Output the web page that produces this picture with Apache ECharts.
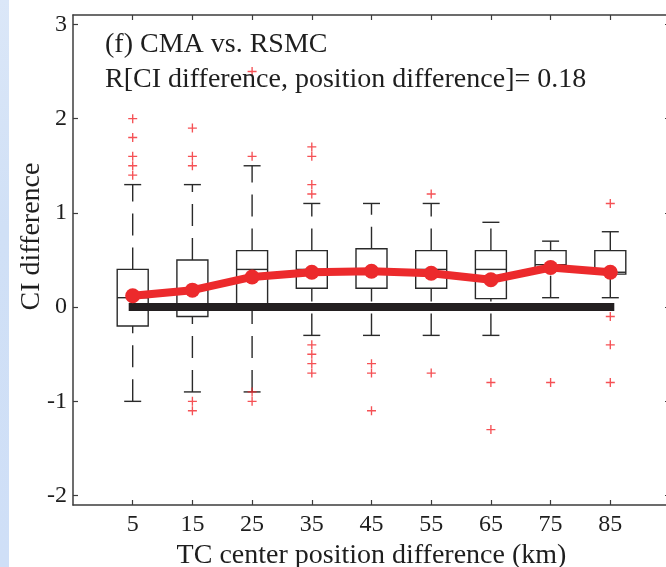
<!DOCTYPE html>
<html>
<head>
<meta charset="utf-8">
<title>CI difference vs TC center position difference</title>
<script src="https://cdn.jsdelivr.net/npm/echarts@6/dist/echarts.min.js"></script>
<style>
  html, body { margin: 0; padding: 0; background: #fff; }
  #boxplot { width: 666px; height: 567px; }
</style>
</head>
<body>
<div id="boxplot"></div>
<script>
// position difference bins (km)
const bins = [5, 15, 25, 35, 45, 55, 65, 75, 85];
// [lower whisker, q1, median, q3, upper whisker] per bin
const boxStats = [
  [-1.0, -0.2, 0.1, 0.4, 1.3],
  [-0.9, -0.1, 0.0, 0.5, 1.3],
  [-0.9, 0.0, 0.4, 0.6, 1.5],
  [-0.3, 0.2, 0.4, 0.6, 1.1],
  [-0.3, 0.2, 0.4, 0.62, 1.1],
  [-0.3, 0.2, 0.4, 0.6, 1.1],
  [-0.3, 0.09, 0.4, 0.6, 0.9],
  [0.1, 0.4, 0.45, 0.6, 0.7],
  [0.1, 0.35, 0.37, 0.6, 0.8]
];
// outliers per bin
const outlierValues = [
  [1.4, 1.5, 1.6, 1.8, 2.0],
  [1.5, 1.6, 1.9, -1.0, -1.1],
  [1.6, 2.5, -0.9, -1.0],
  [1.2, 1.3, 1.6, 1.7, -0.4, -0.5, -0.6, -0.7],
  [-0.6, -0.7, -1.1],
  [1.2, -0.7],
  [-0.8, -1.3],
  [-0.8],
  [1.1, -0.1, -0.4, -0.8]
];
// mean CI difference per bin (red line)
const means = [0.12, 0.18, 0.32, 0.37, 0.38, 0.36, 0.29, 0.42, 0.37];
const zeroLine = [[5, 0], [85, 0]];
const yTicks = [-2, -1, 0, 1, 2, 3];

const FONT = 'Liberation Serif';
const INK = '#1e1e1e';
const FRAME = '#3c3c3c';
const BOX_PX = 31;
const CAP_PX = 17;

const chart = echarts.init(document.getElementById('boxplot'));

const boxData = bins.map((b, i) => [b].concat(boxStats[i]));
const outlierData = [];
bins.forEach((b, i) => {
  outlierValues[i].forEach((v) => outlierData.push([b, v]));
});
const meanData = bins.map((b, i) => [b, means[i]]);

function renderBox(params, api) {
  const x = api.value(0);
  const low = api.coord([x, api.value(1)]);
  const q1 = api.coord([x, api.value(2)]);
  const med = api.coord([x, api.value(3)]);
  const q3 = api.coord([x, api.value(4)]);
  const high = api.coord([x, api.value(5)]);
  const cx = low[0];
  const hb = BOX_PX / 2;
  const hc = CAP_PX / 2;
  const solid = { stroke: '#2a2a2a', lineWidth: 1.4, fill: 'none' };
  const dashed = { stroke: '#2a2a2a', lineWidth: 1.4, fill: 'none', lineDash: [22, 12] };
  return {
    type: 'group',
    children: [
      { type: 'rect', shape: { x: cx - hb, y: q3[1], width: BOX_PX, height: q1[1] - q3[1] }, style: solid },
      { type: 'line', shape: { x1: cx - hb, y1: med[1], x2: cx + hb, y2: med[1] }, style: solid },
      { type: 'line', shape: { x1: cx, y1: q3[1], x2: cx, y2: high[1] }, style: dashed },
      { type: 'line', shape: { x1: cx, y1: low[1], x2: cx, y2: q1[1] }, style: dashed },
      { type: 'line', shape: { x1: cx - hc, y1: high[1], x2: cx + hc, y2: high[1] }, style: solid },
      { type: 'line', shape: { x1: cx - hc, y1: low[1], x2: cx + hc, y2: low[1] }, style: solid }
    ]
  };
}

const frameLine = { lineStyle: { color: FRAME, width: 1.5 }, onZero: false };
const frameTick = (vals) => ({ inside: true, length: 5, customValues: vals, lineStyle: { color: FRAME, width: 1.2 } });

const option = {
  animation: false,
  backgroundColor: '#fff',
  textStyle: { fontFamily: FONT },
  title: {
    text: '(f) CMA vs. RSMC',
    subtext: 'R[CI difference, position difference]= 0.18',
    left: 105,
    top: 31,
    padding: 0,
    itemGap: 7,
    textStyle: { fontFamily: FONT, fontSize: 28, fontWeight: 'normal', color: INK, lineHeight: 28 },
    subtextStyle: { fontFamily: FONT, fontSize: 28, color: INK, lineHeight: 28 }
  },
  graphic: [
    {
      type: 'rect',
      left: 0,
      top: 0,
      shape: { width: 9, height: 567 },
      style: {
        fill: new echarts.graphic.LinearGradient(0, 0, 0, 1, [
          { offset: 0, color: '#dbe7f8' },
          { offset: 0.4, color: '#d0e0f6' },
          { offset: 1, color: '#cfdff7' }
        ])
      },
      silent: true
    }
  ],
  grid: { left: 73, top: 15, width: 597, height: 490, outerBoundsMode: 'none', containLabel: false },
  xAxis: [
    {
      type: 'value',
      min: -5,
      max: 95,
      position: 'bottom',
      axisLine: frameLine,
      axisTick: frameTick(bins),
      axisLabel: { customValues: bins, margin: 8, fontFamily: FONT, fontSize: 24, color: INK },
      splitLine: { show: false },
      name: 'TC center position difference (km)',
      nameLocation: 'middle',
      nameGap: 37,
      nameMoveOverlap: false,
      nameTextStyle: { fontFamily: FONT, fontSize: 28, color: INK }
    },
    {
      type: 'value',
      min: -5,
      max: 95,
      position: 'top',
      axisLine: frameLine,
      axisTick: frameTick(bins),
      axisLabel: { show: false },
      splitLine: { show: false }
    }
  ],
  yAxis: [
    {
      type: 'value',
      min: -2.1,
      max: 3.1,
      position: 'left',
      axisLine: frameLine,
      axisTick: frameTick(yTicks),
      axisLabel: { customValues: yTicks, margin: 6, fontFamily: FONT, fontSize: 24, color: INK },
      splitLine: { show: false },
      name: 'CI difference',
      nameLocation: 'middle',
      nameGap: 27,
      nameMoveOverlap: false,
      nameTextStyle: { fontFamily: FONT, fontSize: 28, color: INK, padding: [0, 0, 0, 47] }
    },
    {
      type: 'value',
      min: -2.1,
      max: 3.1,
      position: 'right',
      axisLine: frameLine,
      axisTick: frameTick(yTicks),
      axisLabel: { show: false },
      splitLine: { show: false }
    }
  ],
  series: [
    {
      name: 'Box',
      type: 'custom',
      renderItem: renderBox,
      data: boxData,
      z: 2
    },
    {
      name: 'Outliers',
      type: 'scatter',
      symbol: 'path://M0,8.5H20V11.5H0ZM8.5,0H11.5V20H8.5Z',
      symbolSize: 9,
      itemStyle: { color: '#f2262a' },
      data: outlierData,
      z: 3
    },
    {
      name: 'Zero',
      type: 'line',
      symbol: 'none',
      lineStyle: { color: '#231f20', width: 8, cap: 'square' },
      data: zeroLine,
      z: 4
    },
    {
      name: 'Mean',
      type: 'line',
      symbol: 'circle',
      symbolSize: 15,
      itemStyle: { color: '#ec2a2c' },
      lineStyle: { color: '#ec2a2c', width: 8 },
      data: meanData,
      z: 5
    }
  ]
};

chart.setOption(option);
</script>
</body>
</html>
